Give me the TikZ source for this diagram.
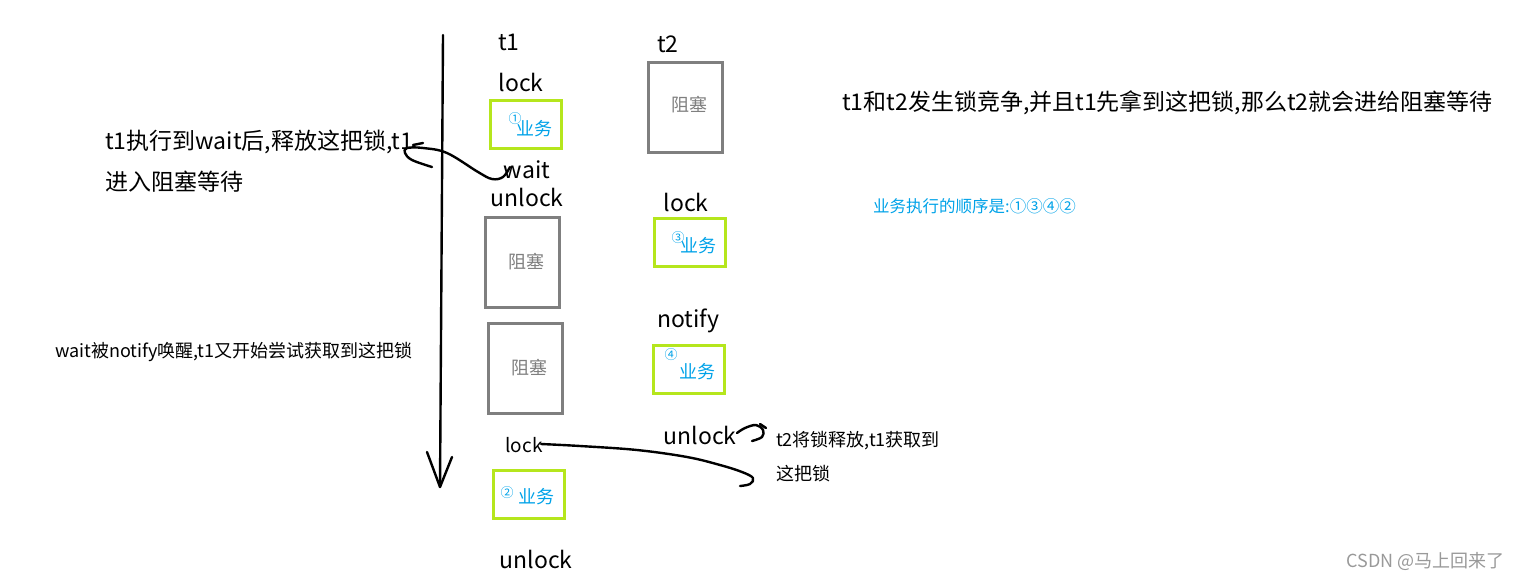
\documentclass[tikz,border=0pt]{standalone}
\usepackage{fontspec}
\setmainfont{Noto Sans CJK SC}
\newcommand\myfs[1]{\fontsize{#1}{#1}\selectfont}
\definecolor{lime}{HTML}{B5E61D}
\definecolor{sky}{HTML}{00A2E8}
\definecolor{boxgray}{HTML}{7F7F7F}
\definecolor{mark}{HTML}{999999}
\begin{document}
\begin{tikzpicture}[x=1pt,y=-1pt,
  lbl/.style={inner sep=0, font=\myfs{23}},
  sm/.style={inner sep=0, font=\myfs{18}},
  gbox/.style={draw=lime, line width=3, minimum width=71, minimum height=48, inner sep=0},
  gybox/.style={draw=boxgray, line width=3, minimum width=74, minimum height=90, inner sep=0},
  biz/.style={inner sep=0, text=sky, font=\myfs{18}},
  num/.style={inner sep=0, text=sky, font=\myfs{13}},
  blk/.style={inner sep=0, text=boxgray, font=\myfs{18}},
  hand/.style={line width=2.4, line cap=round, line join=round}]
\useasboundingbox (0,0) rectangle (1517,581);
% time axis
\coordinate (top) at (443,35);
\coordinate (tip) at (440,487);
\coordinate (hl) at (427,452);
\coordinate (hr) at (452,457);
\draw[hand] (top) -- (tip);
\draw[hand] (hl) -- (tip) -- (hr);
% titles
\node[lbl] (t1) at (509,42) {t1};
\node[lbl] (t2) at (668,44) {t2};
% t1 column
\node[lbl] (lockA) at (521,82) {lock};
\node[gbox] (g1) at (526,124.5) {};
\node[biz] (g1t) at (534,129) {业务};
\node[num] (g1n) at (515,119) {①};
\node[lbl] (wait) at (527,170) {wait};
\node[lbl] (unlockA) at (527,197) {unlock};
\node[gybox] (ba) at (522.5,262.5) {};
\node[blk] (bat) at (526,262) {阻塞};
\node[gybox] (bb) at (525.5,368.5) {};
\node[blk] (bbt) at (529,368) {阻塞};
\node[inner sep=0, font=\myfs{19}] (lockC) at (524,445) {lock};
\node[gbox] (g2) at (529,494.5) {};
\node[num] (g2n) at (507,493) {②};
\node[biz] (g2t) at (536,497) {业务};
\node[lbl] (unlockC) at (536,559) {unlock};
% t2 column
\node[gybox] (bt2) at (685.5,107) {};
\node[blk] (bt2t) at (689,105) {阻塞};
\node[lbl] (lockB) at (686,202) {lock};
\node[gbox] (g3) at (690,242) {};
\node[num] (g3n) at (678,238) {③};
\node[biz] (g3t) at (698,246) {业务};
\node[lbl] (notify) at (688,321) {notify};
\node[gbox] (g4) at (689,369) {};
\node[num] (g4n) at (671,355) {④};
\node[biz] (g4t) at (697,372) {业务};
\node[lbl] (unlockB) at (700,435) {unlock};
% annotations
\node[lbl, anchor=west] (main) at (842,103) {t1和t2发生锁竞争,并且t1先拿到这把锁,那么t2就会进给阻塞等待};
\node[inner sep=0, anchor=west, text=sky, font=\myfs{16.5}] (order) at (873,206) {业务执行的顺序是:①③④②};
\node[lbl, anchor=west] (noteA1) at (105,142) {t1执行到wait后,释放这把锁,t1};
\node[lbl, anchor=west] (noteA2) at (105,182) {进入阻塞等待};
\node[sm, anchor=west] (noteB) at (55,352) {wait被notify唤醒,t1又开始尝试获取到这把锁};
\node[sm, anchor=west] (noteC1) at (776,441) {t2将锁释放,t1获取到};
\node[sm, anchor=west] (noteC2) at (776,474) {这把锁};
\node[inner sep=0, anchor=east, text=mark, font=\myfs{18}] (csdn) at (1505,561) {CSDN @马上回来了};
% hand drawn pointers
\coordinate (wa) at (510,167);
\coordinate (wc) at (432,167);
\draw[hand] plot[smooth, tension=0.6] coordinates {(wa) (503,177) (492,179) (478,172) (447,153) (423,148) (407,148) (405,153) (412,160) (wc)};
\draw[hand] (413,145) -- (423,143);
\coordinate (la) at (541,444);
\coordinate (lc) at (740,486);
\draw[hand] plot[smooth, tension=0.6] coordinates {(la) (580,446) (637,450) (687,457) (720,465) (742,472) (753,478) (750,484) (lc)};
\coordinate (ua) at (737,433);
\coordinate (uc) at (752,441);
\draw[hand] plot[smooth, tension=0.6] coordinates {(ua) (745,428) (756,425) (763,430) (762,437) (uc)};
\draw[hand] (760,424) -- (766,428);
\end{tikzpicture}
\end{document}
